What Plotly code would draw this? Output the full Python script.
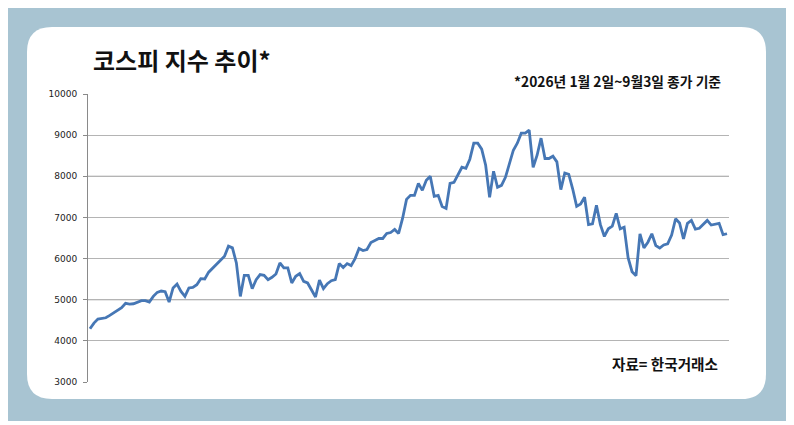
import plotly.graph_objects as go

# 코스피 종가 (2026-01-02 ~ 09-03, 거래일 순서) — 그림에서 읽은 근사값
kospi_close = [
    4293, 4431, 4528, 4553, 4561, 4618, 4683, 4740, 4805, 4911,
    4894, 4902, 4935, 4976, 4976, 4943, 5081, 5179, 5211, 5195,
    4943, 5285, 5382, 5203, 5081, 5285, 5301, 5366, 5512, 5504,
    5670, 5772, 5854, 5951, 6057, 6301, 6260, 5894, 5081, 5593,
    5593, 5268, 5488, 5610, 5593, 5488, 5545, 5626, 5894, 5772,
    5772, 5407, 5569, 5634, 5447, 5407, 5244, 5065, 5475, 5268,
    5390, 5463, 5488, 5878, 5781, 5878, 5829, 6000, 6244, 6195,
    6220, 6390, 6439, 6488, 6488, 6610, 6634, 6707, 6610, 6976,
    7439, 7537, 7537, 7829, 7659, 7902, 8000, 7512, 7537, 7268,
    7220, 7829, 7854, 8024, 8220, 8195, 8415, 8805, 8805, 8659,
    8268, 7488, 8122, 7732, 7780, 7976, 8341, 8634, 8805, 9049,
    9049, 9122, 8220, 8512, 8927, 8432, 8432, 8488, 8350, 7675,
    8081, 8050, 7690, 7268, 7325, 7490, 6825, 6846, 7293, 6825,
    6537, 6724, 6790, 7100, 6724, 6764, 6020, 5680, 5585, 6603,
    6260, 6398, 6603, 6317, 6255, 6330, 6358, 6570, 6968, 6866,
    6480, 6855, 6927, 6715, 6735, 6825, 6927, 6815, 6835, 6855,
    6580, 6603,
]
trading_day = list(range(len(kospi_close)))

y_ticks = [3000, 4000, 5000, 6000, 7000, 8000, 9000, 10000]

title_text = "코스피 지수 추이*"
note_text = "*2026년 1월 2일~9월3일 종가 기준"
source_text = "자료= 한국거래소"

# 페이지 body 여백(8px)만큼 당겨서 화면 픽셀 기준으로 배치
OFF = 8
W, H = 794 - OFF, 425 - OFF
ML, MT, PW, PH = 88 - OFF, 94 - OFF, 641, 288


def px_x(px):
    return (px - OFF - ML) / PW


def px_y(py):
    return 1 - (py - OFF - MT) / PH


def rounded_box(x0, y0, x1, y1, r):
    X, Y = px_x, px_y
    return (
        f"M{X(x0 + r)},{Y(y0)} L{X(x1 - r)},{Y(y0)} "
        f"Q{X(x1)},{Y(y0)} {X(x1)},{Y(y0 + r)} L{X(x1)},{Y(y1 - r)} "
        f"Q{X(x1)},{Y(y1)} {X(x1 - r)},{Y(y1)} L{X(x0 + r)},{Y(y1)} "
        f"Q{X(x0)},{Y(y1)} {X(x0)},{Y(y1 - r)} L{X(x0)},{Y(y0 + r)} "
        f"Q{X(x0)},{Y(y0)} {X(x0 + r)},{Y(y0)} Z"
    )


kr_font = "Noto Sans CJK KR"

fig = go.Figure()
fig.add_trace(go.Scatter(
    x=trading_day, y=kospi_close,
    mode="lines",
    line=dict(color="#4677b5", width=2.8),
    hoverinfo="skip",
))

shapes = [
    # 바깥 하늘색 틀
    dict(type="rect", xref="paper", yref="paper",
         x0=px_x(8), x1=px_x(788), y0=px_y(421), y1=px_y(8),
         fillcolor="#a8c4d2", line=dict(width=0), layer="below"),
    # 흰 카드 (둥근 모서리)
    dict(type="path", xref="paper", yref="paper",
         path=rounded_box(27, 27, 766, 399, 25),
         fillcolor="#ffffff", line=dict(width=0), layer="below"),
]
# 5000, 8000 선은 조금 진하게
for lv in [5000, 8000]:
    shapes.append(dict(type="line", xref="paper", yref="y",
                       x0=0, x1=1, y0=lv, y1=lv,
                       line=dict(color="#858585", width=1), layer="between"))

annotations = [
    dict(text=f"<b>{title_text}</b>", xref="paper", yref="paper",
         x=px_x(91), y=px_y(60), xanchor="left", yanchor="middle",
         showarrow=False, font=dict(family=kr_font, size=24, color="#111111")),
    dict(text=f"<b>{note_text}</b>", xref="paper", yref="paper",
         x=px_x(723), y=px_y(81), xanchor="right", yanchor="middle",
         showarrow=False, font=dict(family=kr_font, size=13.8, color="#111111")),
    dict(text=f"<b>{source_text}</b>", xref="paper", yref="paper",
         x=px_x(720), y=px_y(363), xanchor="right", yanchor="middle",
         showarrow=False, font=dict(family=kr_font, size=14.6, color="#111111")),
]

fig.update_layout(
    width=W, height=H,
    margin=dict(l=ML, r=W - ML - PW, t=MT, b=H - MT - PH, pad=0),
    paper_bgcolor="#ffffff",
    plot_bgcolor="#ffffff",
    showlegend=False,
    shapes=shapes,
    annotations=annotations,
    xaxis=dict(visible=False, range=[-0.5, len(kospi_close) - 0.5], fixedrange=True),
    yaxis=dict(
        range=[3000, 10000],
        tickvals=y_ticks,
        ticktext=[str(v) for v in y_ticks],
        showgrid=True, gridcolor="#b4b4b4", gridwidth=1,
        zeroline=False,
        showline=True, linecolor="#8a8a8a", linewidth=1,
        ticks="outside", ticklen=4, tickcolor="#8a8a8a",
        ticklabelstandoff=4,
        tickfont=dict(family="DejaVu Sans", size=9, color="#222222"),
        fixedrange=True,
    ),
)

fig.write_html("out.html", config={"displayModeBar": False})
